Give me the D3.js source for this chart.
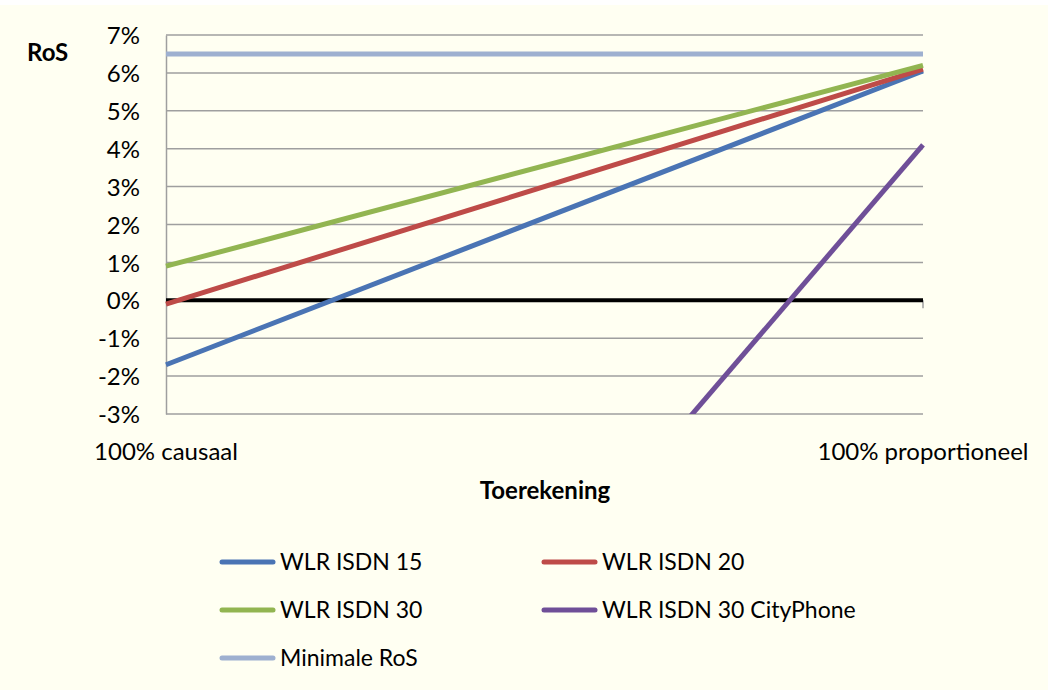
<!DOCTYPE html>
<html>
<head>
<meta charset="utf-8">
<script src="https://cdn.jsdelivr.net/npm/d3@7"></script>
<style>
body { margin: 0; background: #fff; }
text { font-family: Lato, "Open Sans", sans-serif; fill: #000; }
</style>
</head>
<body>
<svg id="chart" width="1048" height="690"></svg>
<script>
var categories = ["100% causaal", "100% proportioneel"];
var seriesNames = ["WLR ISDN 15", "WLR ISDN 20", "WLR ISDN 30", "WLR ISDN 30 CityPhone", "Minimale RoS"];
var isdn15 = [-1.7, 6.05];
var isdn20 = [-0.1, 6.1];
var isdn30 = [0.9, 6.2];
var cityPhone = [-19.2, 4.1];
var minRos = [6.5, 6.5];
var yTicks = [-3, -2, -1, 0, 1, 2, 3, 4, 5, 6, 7];
var colors = ["#4a74b4", "#be4b48", "#92b551", "#6f4f98", "#9eb0d0"];

var series = [isdn15, isdn20, isdn30, cityPhone, minRos];

var svg = d3.select("#chart");
var plotLeft = 166, plotRight = 923, plotTop = 35, plotBottom = 414;
var fontSize = 24;

svg.append("rect")
    .attr("x", 0).attr("y", 5)
    .attr("width", 1048).attr("height", 685)
    .attr("fill", "#fffff2");

var x = d3.scalePoint().domain(categories).range([plotLeft, plotRight]).padding(0);
var y = d3.scaleLinear().domain([-3, 7]).range([plotBottom, plotTop]);

// gridlines
svg.append("g")
    .selectAll("line")
    .data(yTicks)
    .enter()
    .append("line")
    .attr("x1", plotLeft).attr("x2", plotRight)
    .attr("y1", function(d) { return y(d); })
    .attr("y2", function(d) { return y(d); })
    .attr("stroke", "#9f9f9f")
    .attr("stroke-width", 1.5);

// y axis
var yAxis = d3.axisLeft(y)
    .tickValues(yTicks)
    .tickSize(0)
    .tickPadding(26)
    .tickFormat(function(d) { return d + "%"; });
var gy = svg.append("g").attr("transform", "translate(" + plotLeft + ",0)").call(yAxis);
gy.select(".domain").attr("stroke", "#9f9f9f").attr("stroke-width", 1.5);
gy.selectAll("text").attr("font-size", fontSize).attr("dy", "0.36em")
    .attr("font-family", "Lato, sans-serif");

svg.append("defs").append("clipPath").attr("id", "plot")
    .append("rect")
    .attr("x", plotLeft - 3).attr("y", plotTop - 5)
    .attr("width", plotRight - plotLeft + 6).attr("height", plotBottom - plotTop + 5);

// x axis line at 0
svg.append("line")
    .attr("x1", plotRight).attr("x2", plotRight)
    .attr("y1", y(0)).attr("y2", y(0) + 8)
    .attr("stroke", "#9f9f9f").attr("stroke-width", 1.5);
svg.append("line")
    .attr("x1", plotLeft).attr("x2", plotRight)
    .attr("y1", y(0)).attr("y2", y(0))
    .attr("stroke", "#000").attr("stroke-width", 4);

// category labels
svg.append("g")
    .selectAll("text")
    .data(categories)
    .enter()
    .append("text")
    .attr("x", function(d) { return x(d); })
    .attr("y", 460)
    .attr("text-anchor", "middle")
    .attr("font-size", fontSize)
    .text(function(d) { return d; });

// series lines
var line = d3.line()
    .x(function(d, i) { return x(categories[i]); })
    .y(function(d) { return y(d); });

svg.append("g")
    .attr("clip-path", "url(#plot)")
    .selectAll("path")
    .data(series)
    .enter()
    .append("path")
    .attr("d", function(d) { return line(d); })
    .attr("fill", "none")
    .attr("stroke", function(d, i) { return colors[i]; })
    .attr("stroke-width", 5);

// axis titles
svg.append("text")
    .attr("x", 27).attr("y", 61)
    .attr("font-size", fontSize).attr("font-weight", "bold")
    .text("RoS");
svg.append("text")
    .attr("x", 545).attr("y", 499)
    .attr("text-anchor", "middle")
    .attr("font-size", fontSize).attr("font-weight", "bold")
    .text("Toerekening");

// legend
var legend = svg.append("g")
    .selectAll("g")
    .data(seriesNames)
    .enter()
    .append("g")
    .attr("transform", function(d, i) {
        return "translate(" + (i % 2 === 0 ? 220 : 542) + "," + (562 + Math.floor(i / 2) * 48) + ")";
    });
legend.append("line")
    .attr("x1", 2).attr("x2", 53)
    .attr("y1", 0).attr("y2", 0)
    .attr("stroke", function(d, i) { return colors[i]; })
    .attr("stroke-width", 5)
    .attr("stroke-linecap", "round");
legend.append("text")
    .attr("x", 60).attr("y", 0)
    .attr("dy", "0.35em")
    .attr("font-size", 23)
    .text(function(d) { return d; });
</script>
</body>
</html>
